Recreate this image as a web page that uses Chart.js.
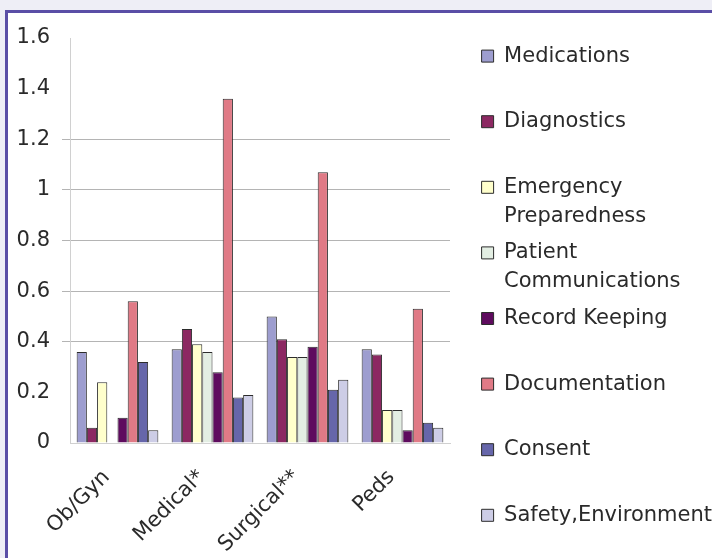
<!DOCTYPE html>
<html>
<head>
<meta charset="utf-8">
<script src="https://cdn.jsdelivr.net/npm/chart.js@4/dist/chart.umd.min.js"></script>
<style>
  html, body { margin: 0; padding: 0; }
  body { width: 712px; height: 558px; overflow: hidden; background: #eeeef6; position: relative; }
  #frame {
    position: absolute; left: 5px; top: 10px; width: 760px; height: 600px;
    border-left: 3px solid #5a4ea6; border-top: 3px solid #5a4ea6;
    background: #ffffff;
  }
  #chart { position: absolute; left: 0; top: 0; }
</style>
</head>
<body>
<div id="frame"></div>
<canvas id="chart" width="714" height="558"></canvas>
<script>
// Danh mục trên trục X
const categories = ['Ob/Gyn', 'Medical*', 'Surgical**', 'Peds'];

// Giá trị từng loại (Ob/Gyn, Medical*, Surgical**, Peds)
const medications = [0.36, 0.37, 0.50, 0.37];
const diagnostics = [0.06, 0.45, 0.41, 0.35];
const emergencyPreparedness = [0.24, 0.39, 0.34, 0.13];
const patientCommunications = [0, 0.36, 0.34, 0.13];
const recordKeeping = [0.10, 0.28, 0.38, 0.05];
const documentation = [0.56, 1.36, 1.07, 0.53];
const consent = [0.32, 0.18, 0.21, 0.08];
const safetyEnvironment = [0.05, 0.19, 0.25, 0.06];

// Nhãn chú thích (có dòng xuống)
const seriesNames = ['Medications', 'Diagnostics', 'Emergency Preparedness', 'Patient Communications',
    'Record Keeping', 'Documentation', 'Consent', 'Safety,Environment'];
const legendLines = [
    ['Medications', ''],
    ['Diagnostics', ''],
    ['Emergency', 'Preparedness'],
    ['Patient', 'Communications'],
    ['Record Keeping', ''],
    ['Documentation', ''],
    ['Consent', ''],
    'Safety,Environment'
];

// Trục Y
const yTicks = [0, 0.2, 0.4, 0.6, 0.8, 1, 1.2, 1.4, 1.6];

const seriesValues = [medications, diagnostics, emergencyPreparedness, patientCommunications,
    recordKeeping, documentation, consent, safetyEnvironment];
const seriesColors = ['#9d9dcf', '#8c2862', '#ffffcc', '#e3eee3', '#5e0b5e', '#e07a86', '#6666aa', '#cdcde6'];

const FONT = 'DejaVu Sans';

const datasets = seriesNames.map((name, i) => ({
    label: name,
    data: seriesValues[i],
    backgroundColor: seriesColors[i],
    borderColor: '#2c2c2c',
    borderWidth: 1,
    categoryPercentage: 0.86,
    barPercentage: 1.0
}));

new Chart(document.getElementById('chart').getContext('2d'), {
    type: 'bar',
    data: { labels: categories, datasets: datasets },
    options: {
        responsive: false,
        animation: false,
        layout: { padding: { left: 16, top: 38, right: 0, bottom: 0 } },
        plugins: {
            tooltip: { enabled: false },
            legend: {
                position: 'right',
                align: 'start',
                maxWidth: 240,
                labels: {
                    boxWidth: 12,
                    boxHeight: 12,
                    padding: 7.6,
                    color: '#2a2a2a',
                    font: { family: FONT, size: 21, lineHeight: '29px' },
                    generateLabels: function(chart) {
                        const items = Chart.defaults.plugins.legend.labels.generateLabels(chart);
                        items.forEach((item, i) => {
                            item.text = legendLines[i];
                            item.lineWidth = 1;
                            item.strokeStyle = '#2c2c2c';
                        });
                        return items;
                    }
                }
            }
        },
        scales: {
            x: {
                grid: { display: false, drawTicks: false },
                border: { display: true, color: '#d0d0d0' },
                ticks: {
                    maxRotation: 45,
                    minRotation: 45,
                    padding: 22,
                    labelOffset: -11,
                    color: '#2a2a2a',
                    font: { family: FONT, size: 21 }
                },
                afterFit: function(scale) { scale.height = 115; }
            },
            y: {
                min: 0,
                max: 1.6,
                afterBuildTicks: function(scale) {
                    scale.ticks = yTicks.map(v => ({ value: v }));
                },
                ticks: {
                    padding: 12,
                    color: '#2a2a2a',
                    font: { family: FONT, size: 21 },
                    callback: v => String(+v.toFixed(1))
                },
                grid: {
                    tickLength: 8,
                    color: ctx => (ctx.tick && ctx.tick.value > 0.35 && ctx.tick.value < 1.25) ? '#b4b4b4' : 'rgba(0,0,0,0)'
                },
                border: { display: true, color: '#d0d0d0' },
                afterFit: function(scale) { scale.width = 54; }
            },
            // Khoảng trống giữa vùng vẽ và chú thích
            gap: {
                position: 'right',
                display: true,
                grid: { display: false },
                border: { display: false },
                ticks: { display: false },
                afterFit: function(scale) { scale.width = 24; }
            }
        }
    }
});
</script>
</body>
</html>
